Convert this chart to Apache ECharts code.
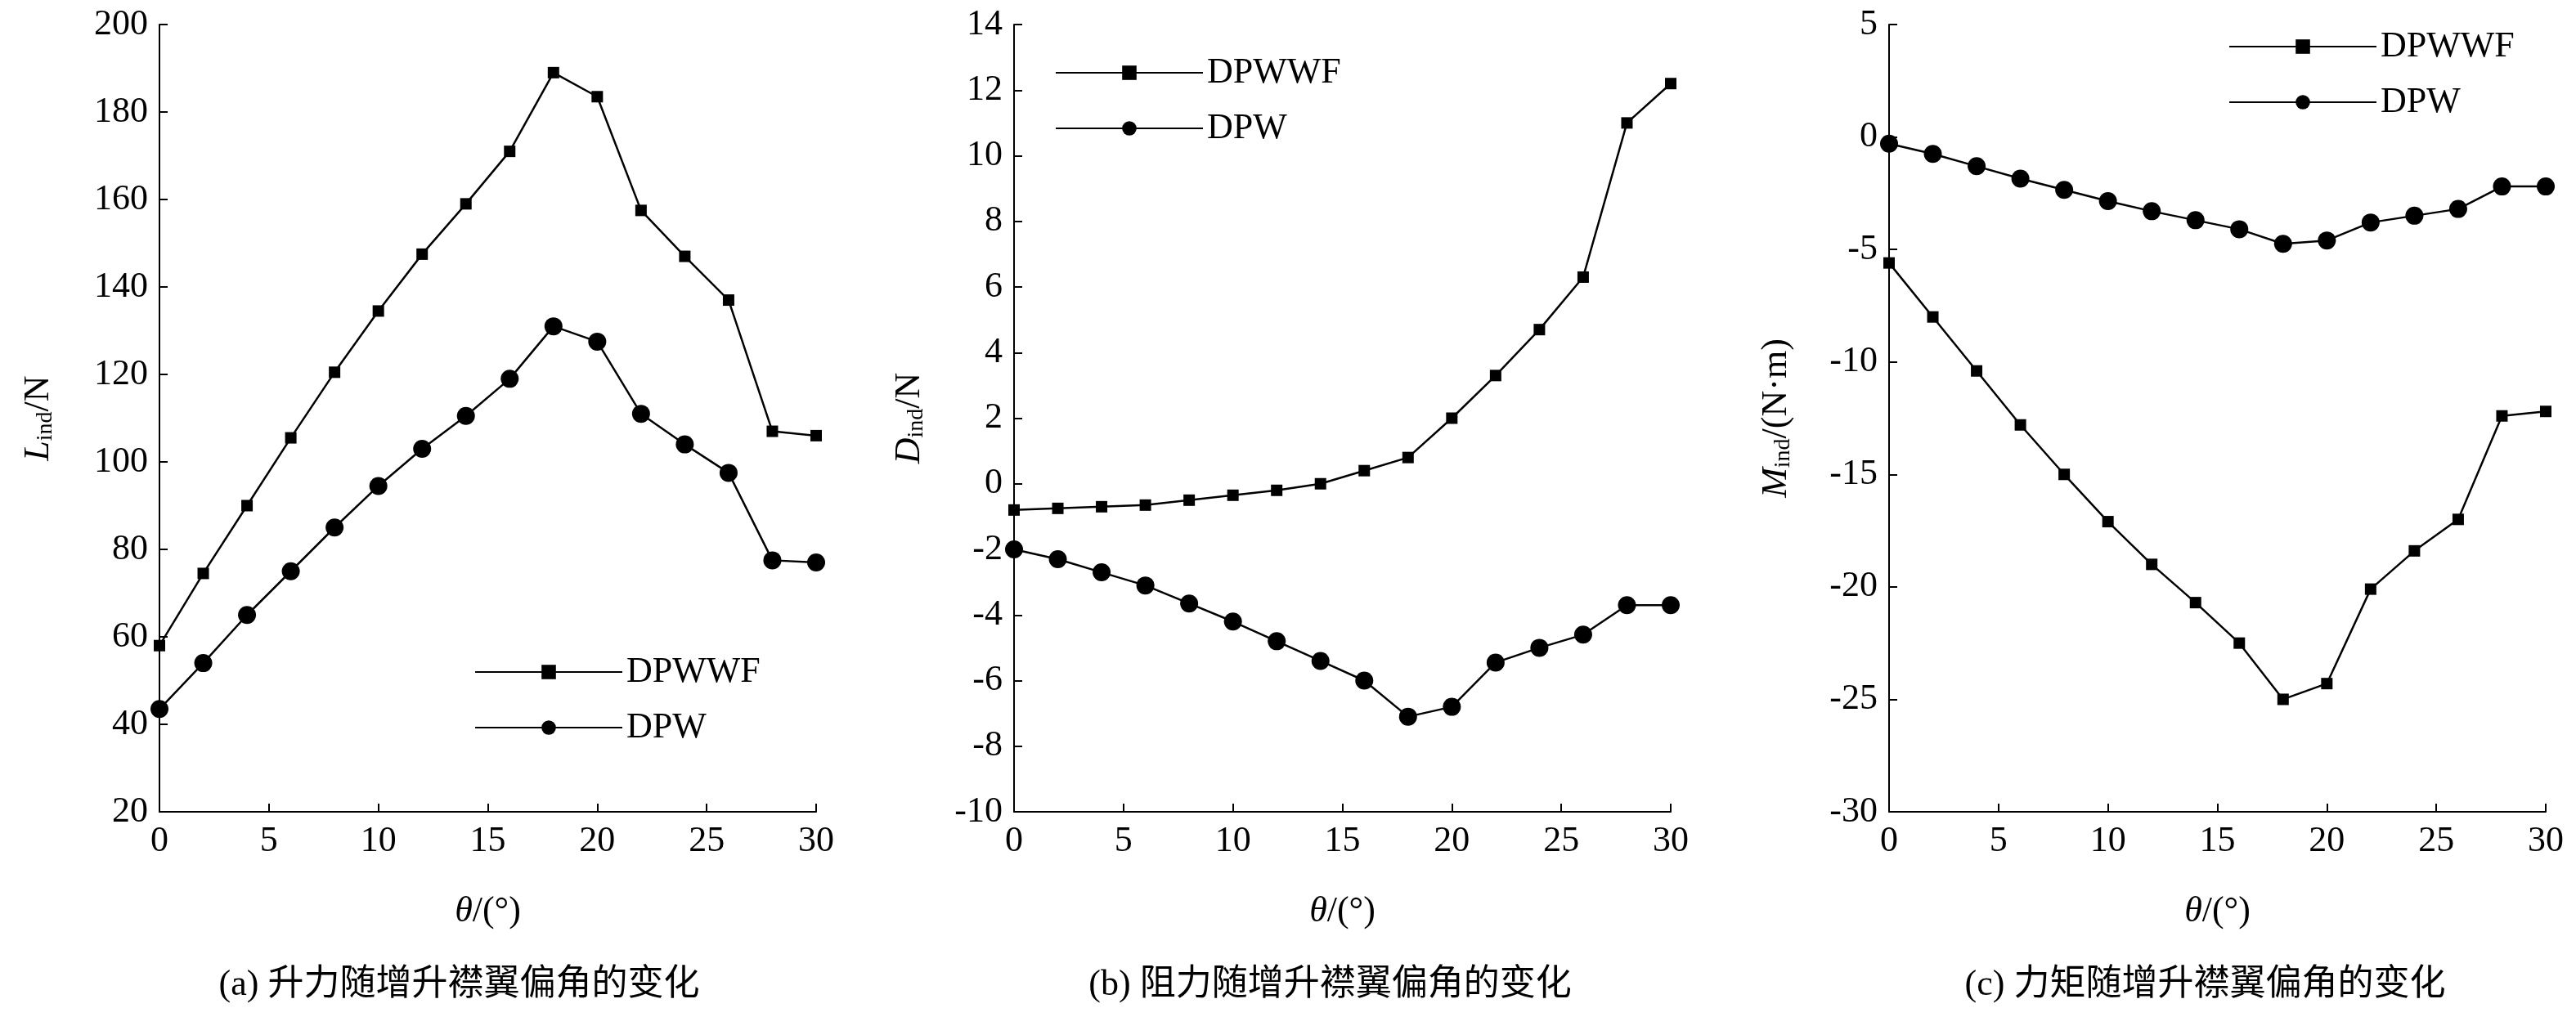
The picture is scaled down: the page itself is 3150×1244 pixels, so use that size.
<html>
<head>
<meta charset="UTF-8">
<script src="https://cdn.jsdelivr.net/npm/echarts@6/dist/echarts.min.js"></script>
<style>
body { margin: 0; padding: 0; overflow: hidden; background: #fff; }
#chart { width: 3150px; height: 1244px; }
</style>
</head>
<body>
<div id="chart"></div>
<script>
const theta = [0, 2, 4, 6, 8, 10, 12, 14, 16, 18, 20, 22, 24, 26, 28, 30];
const liftDPWWF = [58, 74.5, 90, 105.5, 120.5, 134.5, 147.5, 159, 171, 189, 183.5, 157.5, 147, 137, 107, 106];
const liftDPW = [43.5, 54, 65, 75, 85, 94.5, 103, 110.5, 119, 131, 127.5, 111, 104, 97.5, 77.5, 77];
const dragDPWWF = [-0.8, -0.75, -0.7, -0.65, -0.5, -0.35, -0.2, 0, 0.4, 0.8, 2, 3.3, 4.7, 6.3, 11, 12.2];
const dragDPW = [-2, -2.3, -2.7, -3.1, -3.65, -4.2, -4.8, -5.4, -6, -7.1, -6.8, -5.45, -5, -4.6, -3.7, -3.7];
const momDPWWF = [-5.6, -8, -10.4, -12.8, -15, -17.1, -19, -20.7, -22.5, -25, -24.3, -20.1, -18.4, -17, -12.4, -12.2];
const momDPW = [-0.3, -0.75, -1.3, -1.85, -2.35, -2.85, -3.3, -3.7, -4.1, -4.75, -4.6, -3.8, -3.5, -3.2, -2.2, -2.2];
const captions = ['(a) 升力随增升襟翼偏角的变化', '(b) 阻力随增升襟翼偏角的变化', '(c) 力矩随增升襟翼偏角的变化'];

const font = 'Liberation Serif, Noto Sans CJK SC';
const fs = 44;
const lefts = [195, 1240, 2310];
const gw = 803;
const yAxes = [
    {min: 20, max: 200, interval: 20, letter: 'L', unit: '/N'},
    {min: -10, max: 14, interval: 2, letter: 'D', unit: '/N'},
    {min: -30, max: 5, interval: 5, letter: 'M', unit: '/(N·m)'}
];
const pairs = [[liftDPWWF, liftDPW], [dragDPWWF, dragDPW], [momDPWWF, momDPW]];
const legendPos = [{left: 575, top: 795}, {left: 1285, top: 62}, {left: 2720, top: 30}];

const axisLine = {onZero: false, lineStyle: {color: '#000', width: 2}};
const tick = {inside: true, length: 10, lineStyle: {color: '#000', width: 2}};
const option = {
    animation: false,
    textStyle: {fontFamily: font, color: '#000'},
    grid: lefts.map(l => ({left: l, width: gw, top: 30, height: 963})),
    xAxis: lefts.map((l, i) => ({
        type: 'value', gridIndex: i, min: 0, max: 30, interval: 5,
        axisLine: axisLine, axisTick: tick, splitLine: {show: false},
        axisLabel: {fontSize: fs, color: '#000', fontFamily: font, margin: 14},
        name: '{i|θ}/(°)', nameLocation: 'middle', nameGap: 100,
        nameTextStyle: {fontSize: fs, fontFamily: font, color: '#000',
            rich: {i: {fontStyle: 'italic', fontSize: fs, fontFamily: font}}}
    })),
    yAxis: yAxes.map((y, i) => ({
        type: 'value', gridIndex: i, min: y.min, max: y.max, interval: y.interval,
        axisLine: axisLine, axisTick: tick, splitLine: {show: false},
        axisLabel: {fontSize: fs, color: '#000', fontFamily: font, margin: 14},
        name: '{i|' + y.letter + '}{s|ind}' + y.unit, nameLocation: 'middle', nameRotate: 90,
        nameGap: i === 0 ? 125 : (i === 1 ? 105 : 115),
        nameTextStyle: {fontSize: fs, fontFamily: font, color: '#000',
            rich: {
                i: {fontStyle: 'italic', fontSize: fs, fontFamily: font},
                s: {fontSize: 28, fontFamily: font, verticalAlign: 'bottom', padding: [18, 0, 0, 0]}
            }}
    })),
    legend: legendPos.map((p, i) => ({
        left: p.left, top: p.top, orient: 'vertical', itemWidth: 180, itemHeight: 22, itemGap: 24,
        data: ['DPWWF' + i, 'DPW' + i],
        formatter: n => n.replace(/\d$/, ''),
        textStyle: {fontSize: fs, fontFamily: font, color: '#000'}
    })),
    title: captions.map((c, i) => ({
        text: c, left: lefts[i] + gw / 2 + (i === 0 ? -40 : -20), top: 1178, textAlign: 'center',
        textStyle: {fontSize: fs, fontWeight: 'normal', fontFamily: font, color: '#000'}
    })),
    series: []
};
pairs.forEach((pr, i) => {
    option.series.push({
        name: 'DPWWF' + i, type: 'line', xAxisIndex: i, yAxisIndex: i,
        data: theta.map((t, k) => [t, pr[0][k]]),
        symbol: 'rect', symbolSize: 14,
        lineStyle: {color: '#000', width: 2.5}, itemStyle: {color: '#000'}
    });
    option.series.push({
        name: 'DPW' + i, type: 'line', xAxisIndex: i, yAxisIndex: i,
        data: theta.map((t, k) => [t, pr[1][k]]),
        symbol: 'circle', symbolSize: 22,
        lineStyle: {color: '#000', width: 2.5}, itemStyle: {color: '#000'}
    });
});
echarts.init(document.getElementById('chart')).setOption(option);
</script>
</body>
</html>
